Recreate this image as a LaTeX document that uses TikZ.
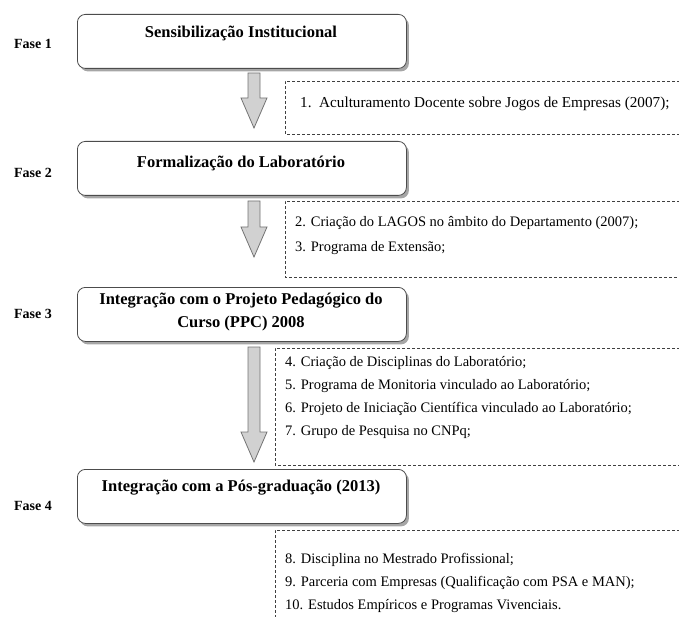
\documentclass[tikz,border=0pt]{standalone}
\usepackage{fontspec}
\setmainfont{Liberation Serif}
\usetikzlibrary{shadows}
\begin{document}
\begin{tikzpicture}[x=1pt,y=-1pt,
  phasebox/.style={draw=black!70, line width=0.8pt, rounded corners=8pt, fill=white,
    minimum width=329pt, minimum height=54pt, anchor=north west, inner sep=0pt,
    drop shadow={shadow xshift=2.5pt, shadow yshift=-3pt, fill=black!35, opacity=1}},
  phasetitle/.style={font=\bfseries\fontsize{16.5}{22.5}\selectfont, align=center, inner sep=0pt},
  phaselabel/.style={font=\bfseries\fontsize{14}{16}\selectfont, inner sep=0pt},
  notebox/.style={draw=black!75, dashed, dash pattern=on 3pt off 2pt, line width=0.6pt},
  noteline/.style={font=\fontsize{14.5}{17}\selectfont, anchor=west, inner sep=0pt},
  blockarrow/.style={draw=black!55, fill=black!18, line width=0.8pt, line join=miter}
]
\useasboundingbox (0,0) rectangle (679,617);

% phase boxes
\node[phasebox] (p1) at (77,14) {};
\node[phasebox] (p2) at (77,141) {};
\node[phasebox] (p3) at (77,287) {};
\node[phasebox] (p4) at (77,469) {};

% phase titles
\node[phasetitle] (t1) at (241,33) {Sensibilização Institucional};
\node[phasetitle] (t2) at (241,163) {Formalização do Laboratório};
\node[phasetitle] (t3) at (241,312) {Integração com o Projeto Pedagógico do\\Curso (PPC) 2008};
\node[phasetitle] (t4) at (241,488) {Integração com a Pós-graduação (2013)};

% phase labels
\node[phaselabel] (f1) at (33,44) {Fase 1};
\node[phaselabel] (f2) at (33,173) {Fase 2};
\node[phaselabel] (f3) at (33,314) {Fase 3};
\node[phaselabel] (f4) at (33,506) {Fase 4};

% block arrows between phases
\newcommand\downarrowshape[3]{% x centre, top, tip
  \draw[blockarrow] (#1-6,#2) -- (#1+6,#2) -- (#1+6,#3-30) -- (#1+13,#3-30)
    -- (#1,#3) -- (#1-13,#3-30) -- (#1-6,#3-30) -- cycle;}
\downarrowshape{254}{73}{128}
\downarrowshape{254}{201}{257}
\downarrowshape{254}{347}{462}

% dashed note frames, open to the right
\draw[notebox] (690,81) -- (285,81) -- (285,134) -- (690,134);
\draw[notebox] (690,201) -- (285,201) -- (285,277) -- (690,277);
\draw[notebox] (690,348) -- (275,348) -- (275,465) -- (690,465);
\draw[notebox] (690,530) -- (275,530) -- (275,630);

% note texts
\node[noteline, font=\fontsize{15.2}{18}\selectfont] (n1) at (300,104) {1.\ \ Aculturamento Docente sobre Jogos de Empresas (2007);};
\node[noteline] (n2) at (295,223) {2. Criação do LAGOS no âmbito do Departamento (2007);};
\node[noteline] (n3) at (295,248) {3. Programa de Extensão;};
\node[noteline] (n4) at (285,363) {4. Criação de Disciplinas do Laboratório;};
\node[noteline] (n5) at (285,386) {5. Programa de Monitoria vinculado ao Laboratório;};
\node[noteline] (n6) at (285,409) {6. Projeto de Iniciação Científica vinculado ao Laboratório;};
\node[noteline] (n7) at (285,432) {7. Grupo de Pesquisa no CNPq;};
\node[noteline] (n8) at (285,560) {8. Disciplina no Mestrado Profissional;};
\node[noteline] (n9) at (285,583) {9. Parceria com Empresas (Qualificação com PSA e MAN);};
\node[noteline] (n10) at (285,606) {10. Estudos Empíricos e Programas Vivenciais.};
\end{tikzpicture}
\end{document}
